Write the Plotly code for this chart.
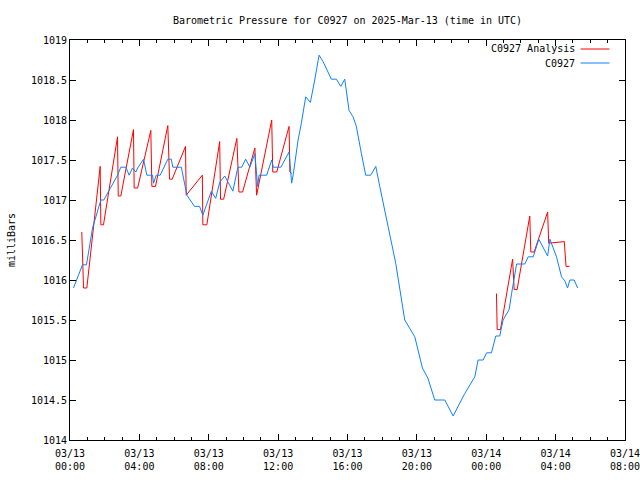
import pandas as pd
import plotly.graph_objects as go

BASE = pd.Timestamp("2025-03-13 00:00")

# C0927 observations: hours since 2025-03-13 00:00 UTC, pressure (mb)
obs_hours = [0.20, 0.72, 0.95, 1.30, 1.78, 1.95, 2.74, 2.93, 3.22, 3.41, 3.60, 3.80, 3.90,
             4.24, 4.43, 4.76, 4.82, 4.97, 5.20, 5.64, 5.84, 5.93, 6.42, 6.74, 7.18, 7.47,
             7.66, 8.15, 8.40, 8.63, 8.92, 9.39, 9.68, 9.90, 10.13, 10.37, 10.66, 10.82,
             10.90, 11.34, 11.63, 11.72, 12.16, 12.63, 12.78, 12.88, 13.15, 13.34, 13.59,
             13.86, 14.11, 14.36, 14.59, 15.07, 15.36, 15.61, 15.84, 16.09, 16.32, 16.51,
             16.80, 17.05, 17.34, 17.63, 17.86, 18.01, 18.34, 18.78, 19.30, 19.88, 20.32,
             20.64, 21.03, 21.61, 22.09, 22.76, 23.34, 23.53, 23.82, 24.02, 24.30, 24.55,
             24.78, 24.97, 25.32, 25.46, 25.65, 25.75, 26.22, 26.42, 26.71, 27.03, 27.54,
             27.67, 28.05, 28.34, 28.53, 28.69, 28.82, 29.07, 29.27]
obs_mb = [1015.90, 1016.19, 1016.19, 1016.65, 1017.00, 1017.00, 1017.31, 1017.41, 1017.41,
          1017.31, 1017.40, 1017.35, 1017.40, 1017.51, 1017.31, 1017.31, 1017.21, 1017.31,
          1017.31, 1017.51, 1017.51, 1017.41, 1017.41, 1017.06, 1016.92, 1016.92, 1016.81,
          1017.11, 1017.02, 1017.22, 1017.30, 1017.11, 1017.41, 1017.41, 1017.51, 1017.41,
          1017.58, 1017.17, 1017.31, 1017.31, 1017.50, 1017.41, 1017.41, 1017.60, 1017.21,
          1017.33, 1017.75, 1017.96, 1018.29, 1018.22, 1018.50, 1018.81, 1018.73, 1018.51,
          1018.51, 1018.42, 1018.51, 1018.12, 1018.04, 1017.92, 1017.58, 1017.31, 1017.31,
          1017.42, 1017.17, 1017.00, 1016.67, 1016.21, 1015.50, 1015.29, 1014.90, 1014.77,
          1014.50, 1014.50, 1014.30, 1014.58, 1014.79, 1015.00, 1015.00, 1015.09, 1015.09,
          1015.30, 1015.30, 1015.50, 1015.63, 1015.83, 1016.10, 1016.20, 1016.20, 1016.29,
          1016.29, 1016.51, 1016.30, 1016.51, 1016.29, 1016.04, 1015.99, 1015.90, 1016.00,
          1016.00, 1015.90]

# C0927 Analysis, first run
ana1_hours = [0.68, 0.72, 0.78, 0.97, 1.74, 1.78, 1.93, 2.74, 2.78, 2.93, 3.66, 3.70, 3.90,
              4.66, 4.72, 4.93, 5.64, 5.74, 5.89, 6.66, 6.70, 7.63, 7.66, 7.89, 8.63, 8.68,
              8.86, 9.62, 9.74, 9.95, 10.66, 10.76, 11.63, 11.69, 11.92, 12.63, 12.68, 12.78]
ana1_mb = [1016.60, 1016.20, 1015.90, 1015.90, 1017.42, 1016.69, 1016.69, 1017.79, 1017.05,
           1017.05, 1017.88, 1017.15, 1017.15, 1017.87, 1017.17, 1017.17, 1017.93, 1017.26,
           1017.26, 1017.67, 1017.06, 1017.31, 1016.69, 1016.69, 1017.73, 1017.01, 1017.01,
           1017.77, 1017.10, 1017.10, 1017.65, 1017.06, 1018.00, 1017.35, 1017.35, 1017.92,
           1017.35, 1017.33]

# C0927 Analysis, second run
ana2_hours = [24.59, 24.63, 24.82, 25.52, 25.61, 25.78, 26.51, 26.57, 26.76, 27.54, 27.60,
              28.50, 28.60, 28.80]
ana2_mb = [1015.83, 1015.38, 1015.38, 1016.26, 1015.88, 1015.88, 1016.80, 1016.35, 1016.35,
           1016.85, 1016.46, 1016.48, 1016.17, 1016.17]

TITLE = "Barometric Pressure for C0927 on 2025-Mar-13 (time in UTC)"
RED = "#ff0000"
BLUE = "#0f80ff"
FONT = "DejaVu Sans Mono"


def to_time(hours):
    return [BASE + pd.Timedelta(hours=h) if h is not None else None for h in hours]


ana_hours = ana1_hours + [None] + ana2_hours
ana_mb = ana1_mb + [None] + ana2_mb

fig = go.Figure()
fig.add_trace(go.Scatter(x=to_time(ana_hours), y=ana_mb, mode="lines",
                         line=dict(color=RED, width=1), name="C0927 Analysis",
                         connectgaps=False, showlegend=False))
fig.add_trace(go.Scatter(x=to_time(obs_hours), y=obs_mb, mode="lines",
                         line=dict(color=BLUE, width=1), name="C0927", showlegend=False))

# gnuplot-style key: text right-aligned, line sample on the right
key = [("C0927 Analysis", RED, 0.9775), ("C0927", BLUE, 0.9425)]
for label, col, yp in key:
    fig.add_annotation(x=0.913, y=yp, xref="paper", yref="paper", text=label,
                       showarrow=False, xanchor="right", yanchor="middle",
                       font=dict(family=FONT, size=10, color="black"))
    fig.add_shape(type="line", xref="paper", yref="paper", x0=0.920, x1=0.972,
                  y0=yp, y1=yp, line=dict(color=col, width=1))

fig.update_layout(
    width=640, height=480,
    margin=dict(l=70, r=15, t=40, b=40, autoexpand=False),
    paper_bgcolor="white", plot_bgcolor="white",
    font=dict(family=FONT, size=10, color="black"),
    title=dict(text=TITLE, x=0.5, xref="paper", y=1 - 20 / 480, yanchor="middle",
               font=dict(family=FONT, size=10, color="black")),
    showlegend=False,
)
fig.update_xaxes(
    type="date", automargin=False,
    range=[BASE, BASE + pd.Timedelta(hours=32)],
    tick0=BASE, dtick=4 * 3600 * 1000,
    tickformat="%m/%d<br>%H:%M",
    ticklabeloverflow="allow", ticklabelstandoff=4,
    ticks="inside", ticklen=6, tickcolor="black",
    showline=True, linecolor="black", linewidth=1, mirror="ticks",
    showgrid=False, zeroline=False,
    minor=dict(dtick=3600 * 1000, tick0=BASE, ticks="inside", ticklen=3, tickcolor="black",
               showgrid=False),
    tickfont=dict(family=FONT, size=10, color="black"),
)
fig.update_yaxes(
    automargin=False,
    range=[1014, 1019], dtick=0.5, tick0=1014, tickformat=".6~g",
    ticks="inside", ticklen=6, tickcolor="black",
    showline=True, linecolor="black", linewidth=1, mirror="ticks",
    showgrid=False, zeroline=False,
    title=dict(text="milliBars", font=dict(family=FONT, size=10, color="black"), standoff=13),
    tickfont=dict(family=FONT, size=10, color="black"),
)

fig.write_html("out.html", config={"displayModeBar": False},
               post_script="document.body.style.margin='0px';")
